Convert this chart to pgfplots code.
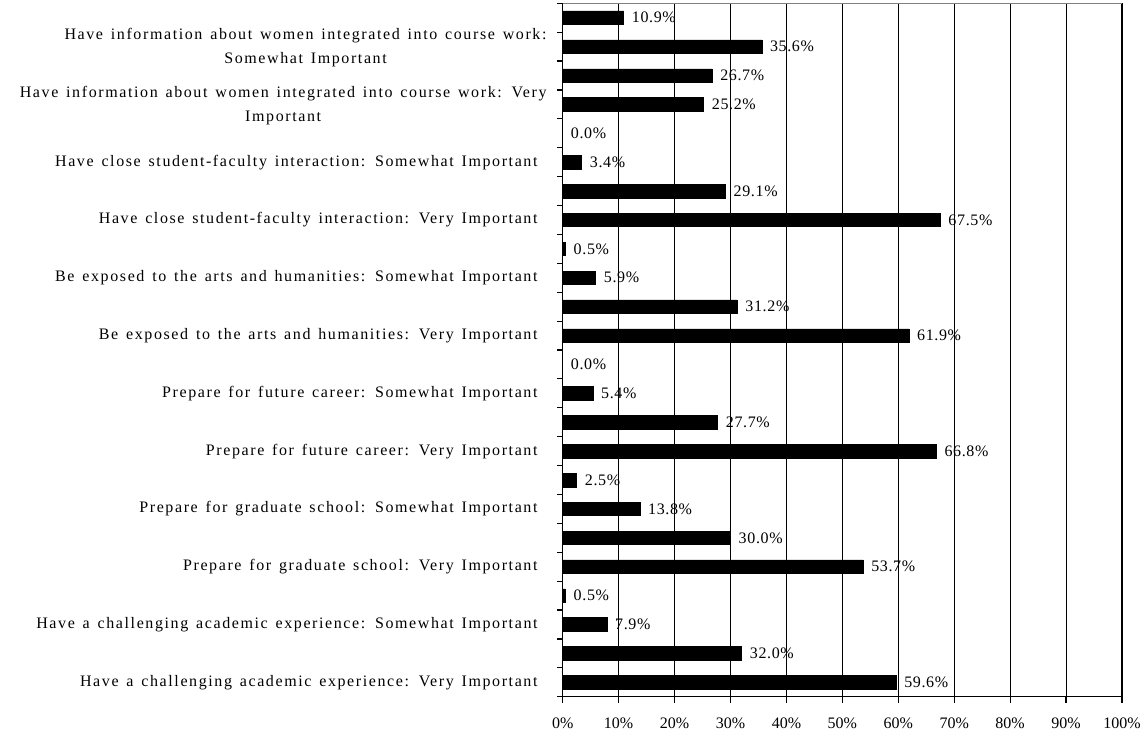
\documentclass[border=0pt]{standalone}
\usepackage{pgfplots}
\pgfplotsset{compat=1.18}
\usepackage{fontspec}
\setmainfont{Liberation Serif}
\newfontfamily\spacedserif[LetterSpace=10,WordSpace=1.4]{Liberation Serif}
\newfontfamily\valueserif[LetterSpace=4]{Liberation Serif}
\newcommand\lblfont{\spacedserif\fontsize{16}{24}\selectfont}
\newcommand\valfont{\valueserif\fontsize{16}{19}\selectfont}
\newcommand\numfont{\fontsize{16}{19}\selectfont}
\newcommand\twoline[2]{\begin{tabular}{@{}c@{}}#1\\#2\end{tabular}\kern-9pt}

\begin{document}
\begin{tikzpicture}
\useasboundingbox (-562.7pt,-39.3pt) rectangle (585.3pt,696.7pt);
\begin{axis}[
  at={(0pt,0pt)}, anchor=south west,
  scale only axis, width=559.3pt, height=693.4pt,
  xmin=0, xmax=100, ymin=0, ymax=24,
  clip=false,
  axis line style={black, line width=1.2pt},
  /pgf/number format/assume math mode=true,
  tick pos=left,
  tick align=outside,
  major tick length=6pt,
  every tick/.style={black, line width=1.2pt},
  xtick={0,10,...,100},
  xticklabels={0\%,10\%,20\%,30\%,40\%,50\%,60\%,70\%,80\%,90\%,100\%},
  xticklabel style={font=\numfont, inner sep=0pt, yshift=-14.5pt},
  xmajorgrids,
  grid style={black, line width=1pt},
  % category names sit beside the lower bar of each pair
  ytick={0.5,2.5,...,22.5},
  yticklabels={
    {Have a challenging academic experience: Very Important},
    {Have a challenging academic experience: Somewhat Important},
    {Prepare for graduate school: Very Important},
    {Prepare for graduate school: Somewhat Important},
    {Prepare for future career: Very Important},
    {Prepare for future career: Somewhat Important},
    {Be exposed to the arts and humanities: Very Important},
    {Be exposed to the arts and humanities: Somewhat Important},
    {Have close student-faculty interaction: Very Important},
    {Have close student-faculty interaction: Somewhat Important},
    {\twoline{Have information about women integrated into course work: Very}{Important}},
    {\twoline{Have information about women integrated into course work:}{Somewhat Important}}},
  ytick style={draw=none},
  yticklabel style={font=\lblfont, anchor=east, inner sep=0pt, xshift=-19pt},
]
\addplot[xbar, bar width=13.5pt, fill=black, draw=black, line width=0.5pt,
  point meta=x,
  nodes near coords={\pgfmathprintnumber[fixed,fixed zerofill,precision=1]{\pgfplotspointmeta}\%},
  every node near coord/.append style={font=\valfont, anchor=west, inner sep=0pt, xshift=8pt}]
coordinates {
  (59.6,0.5) (32.0,1.5) (7.9,2.5) (0.5,3.5)
  (53.7,4.5) (30.0,5.5) (13.8,6.5) (2.5,7.5)
  (66.8,8.5) (27.7,9.5) (5.4,10.5) (0.0,11.5)
  (61.9,12.5) (31.2,13.5) (5.9,14.5) (0.5,15.5)
  (67.5,16.5) (29.1,17.5) (3.4,18.5) (0.0,19.5)
  (25.2,20.5) (26.7,21.5) (35.6,22.5) (10.9,23.5)
};
% short outward ticks on the category axis, one between each pair of bars
\pgfplotsinvokeforeach{0,1,...,24}{
  \draw[black, line width=1.2pt] (axis cs:0,#1) -- ++(-6pt,0pt);
}
% outward ticks under the percentage gridlines
\pgfplotsinvokeforeach{0,10,...,100}{
  \draw[black, line width=1.2pt] (axis cs:#1,0) -- ++(0pt,-6pt);
}
% lighter top edge of the frame
\draw[white, line width=1.6pt] (rel axis cs:0.002,1) -- (rel axis cs:0.998,1);
\draw[gray, line width=1pt] (rel axis cs:0,1) -- (rel axis cs:1,1);
\end{axis}
\end{tikzpicture}
\end{document}
